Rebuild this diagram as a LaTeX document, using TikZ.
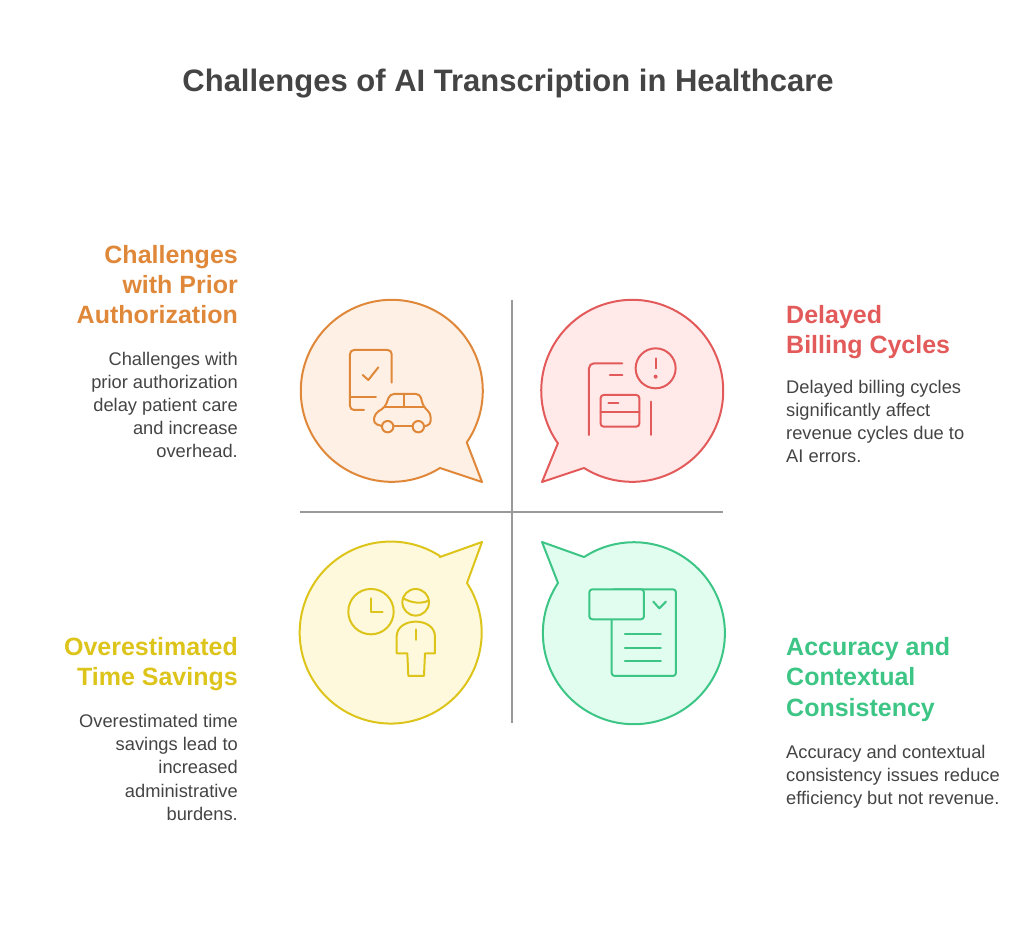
\documentclass[tikz,border=0pt]{standalone}
\usepackage{fontspec}
\setmainfont{Liberation Sans}
\definecolor{cO}{HTML}{E0883A}\definecolor{fO}{HTML}{FEF0E4}
\definecolor{cR}{HTML}{E35A5A}\definecolor{fR}{HTML}{FFE9E9}
\definecolor{cY}{HTML}{DDC41A}\definecolor{fY}{HTML}{FEF9DC}
\definecolor{cG}{HTML}{3CC585}\definecolor{fG}{HTML}{E0FDF0}
\definecolor{txt}{HTML}{444444}\definecolor{ax}{HTML}{999999}
\begin{document}
\begin{tikzpicture}[x=1pt,y=1pt,
  bub/.style={line width=2pt,line join=round},
  ic/.style={line width=2pt,line cap=round,line join=round},
  head/.style={font=\fontsize{25}{30}\selectfont\bfseries,inner sep=0pt},
  body/.style={font=\fontsize{18.3}{23}\selectfont,text=txt,inner sep=0pt}]
\useasboundingbox (0,0) rectangle (1024,934);
\node[font=\fontsize{31}{36}\selectfont\bfseries,text=txt,anchor=base] (title) at (508,842) {Challenges of AI Transcription in Healthcare};
\coordinate (vt) at (512,634); \coordinate (vb) at (512,211);
\coordinate (hl) at (300,422); \coordinate (hr) at (723,422);
\draw[ax,line width=2pt] (vt) -- (vb); \draw[ax,line width=2pt] (hl) -- (hr);
% bubbles
\draw[bub,cO,fill=fO] (467,491) -- (482,452) -- (440,466) arc[start angle=-58,end angle=-394.7,radius=91] -- cycle;
\draw[bub,cR,fill=fR] (558,491) -- (542,452) -- (584,466) arc[start angle=238,end angle=574.7,radius=91] -- cycle;
\draw[bub,cY,fill=fY] (440,377) -- (482,392) -- (467,351) arc[start angle=33,end angle=-302.6,radius=91] -- cycle;
\draw[bub,cG,fill=fG] (584,377) -- (542,392) -- (558,351) arc[start angle=146.5,end angle=482.6,radius=91] -- cycle;
% icons (zoom coordinates)
\begin{scope}[shift={(290,644)},x=0.3333pt,y=-0.3333pt]
 \draw[ic,cO,rounded corners=4pt] (305,278) -- (305,180) -- (180,180) -- (180,360) -- (222,360);
 \draw[ic,cO] (180,322) -- (258,322);
 \draw[ic,cO] (218,255) -- (235,270) -- (265,232);
 \draw[ic,cO,rounded corners=4pt] (275,408) -- (250,400) -- (255,370) -- (285,352) -- (300,312) -- (390,312) -- (400,350) -- (422,370) -- (422,405) -- (405,408);
 \draw[ic,cO] (285,352) -- (400,352); \draw[ic,cO] (343,312) -- (343,352);
 \draw[ic,cO] (310,408) -- (368,408);
 \draw[ic,cO] (293,410) circle[radius=5.7pt]; \draw[ic,cO] (385,410) circle[radius=5.7pt];
 % red
 \draw[ic,cR] (1097,235) circle[radius=20pt];
 \draw[ic,cR] (1097,205) -- (1097,235); \fill[cR] (1097,260) circle[radius=2pt];
 \draw[ic,cR,rounded corners=5pt] (997,220) -- (897,220) -- (897,435);
 \draw[ic,cR] (960,255) -- (997,255);
 \draw[ic,cR,rounded corners=3pt] (932,315) rectangle (1048,410);
 \draw[ic,cR] (932,365) -- (1048,365); \draw[ic,cR] (955,340) -- (985,340);
 \draw[ic,cR] (1082,335) -- (1082,435);
 % yellow
 \draw[ic,cY] (243,965) circle[radius=22.7pt];
 \draw[ic,cY] (243,925) -- (243,965) -- (278,965);
 \draw[ic,cY] (377,937) circle[radius=13.3pt];
 \draw[ic,cY] (340,925) .. controls (365,940) and (395,942) .. (415,932);
 \draw[ic,cY] (352,1090) -- (320,1090) -- (320,1040) .. controls (320,980) and (435,980) .. (435,1040) -- (435,1090) -- (405,1090) -- (402,1158) -- (355,1158) -- cycle;
 \draw[ic,cY] (378,1018) -- (378,1050);
 % green
 \draw[ic,cG,rounded corners=3pt] (965,898) rectangle (1158,1158);
 \draw[ic,cG,fill=fG,rounded corners=3pt] (898,898) rectangle (1062,988);
 \draw[ic,cG] (1090,935) -- (1108,955) -- (1128,935);
 \draw[ic,cG] (1005,1033) -- (1113,1033); \draw[ic,cG] (1005,1073) -- (1113,1073); \draw[ic,cG] (1005,1113) -- (1113,1113);
\end{scope}
% texts (anchor base = last line)
\node[head,text=cO,align=right,anchor=base east] (h1) at (238,610) {Challenges\\with Prior\\Authorization};
\node[body,align=right,anchor=base east] (b1) at (238,476) {Challenges with\\prior authorization\\delay patient care\\and increase\\overhead.};
\node[head,text=cR,align=left,anchor=base west] (h2) at (786,580) {Delayed\\Billing Cycles};
\node[body,align=left,anchor=base west] (b2) at (786,471) {Delayed billing cycles\\significantly affect\\revenue cycles due to\\AI errors.};
\node[head,text=cY,align=right,anchor=base east] (h3) at (238,248) {Overestimated\\Time Savings};
\node[body,align=right,anchor=base east] (b3) at (238,114) {Overestimated time\\savings lead to\\increased\\administrative\\burdens.};
\node[head,text=cG,align=left,anchor=base west] (h4) at (786,218) {Accuracy and\\Contextual\\Consistency};
\node[body,align=left,anchor=base west] (b4) at (786,130) {Accuracy and contextual\\consistency issues reduce\\efficiency but not revenue.};
\end{tikzpicture}
\end{document}
